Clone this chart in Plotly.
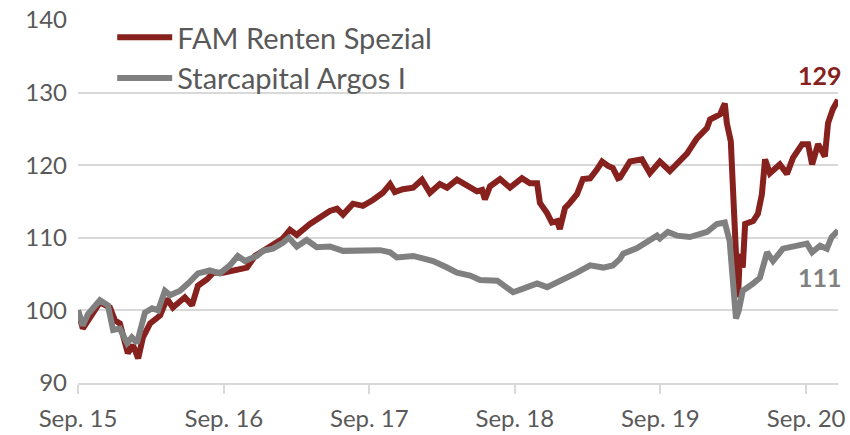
import plotly.graph_objects as go

# FAM Renten Spezial (red)
fam_dates = [
    "2015-09-01", "2015-09-13", "2015-10-01", "2015-10-26", "2015-11-20", "2015-12-03",
    "2015-12-15", "2015-12-28", "2016-01-04", "2016-01-17", "2016-01-30", "2016-02-11",
    "2016-02-29", "2016-03-25", "2016-04-11", "2016-04-26", "2016-05-14", "2016-05-26",
    "2016-06-13", "2016-06-28", "2016-07-21", "2016-08-05", "2016-08-30", "2016-10-04",
    "2016-10-29", "2016-11-18", "2016-12-08", "2017-01-02", "2017-01-27", "2017-02-14",
    "2017-03-03", "2017-04-05", "2017-04-30", "2017-05-25", "2017-06-12", "2017-06-27",
    "2017-07-22", "2017-08-16", "2017-09-10", "2017-10-05", "2017-10-23", "2017-11-04",
    "2017-11-24", "2017-12-20", "2018-01-11", "2018-01-31", "2018-02-25", "2018-03-15",
    "2018-04-09", "2018-05-04", "2018-05-29", "2018-06-11", "2018-06-18", "2018-07-01",
    "2018-07-26", "2018-08-20", "2018-09-19", "2018-10-09", "2018-10-27", "2018-11-03",
    "2018-11-21", "2018-12-03", "2018-12-16", "2018-12-23", "2019-01-05", "2019-01-17",
    "2019-02-04", "2019-02-19", "2019-03-09", "2019-03-26", "2019-04-08", "2019-04-23",
    "2019-05-05", "2019-05-18", "2019-05-23", "2019-06-17", "2019-07-17", "2019-08-06",
    "2019-08-31", "2019-09-25", "2019-10-13", "2019-11-07", "2019-12-02", "2019-12-27",
    "2020-01-04", "2020-01-29", "2020-02-10", "2020-02-15", "2020-02-25", "2020-03-01",
    "2020-03-09", "2020-03-14", "2020-03-19", "2020-03-26", "2020-04-01", "2020-04-21",
    "2020-05-03", "2020-05-13", "2020-05-21", "2020-06-02", "2020-06-27", "2020-07-15",
    "2020-07-30", "2020-08-22", "2020-09-06", "2020-09-16", "2020-10-01", "2020-10-18",
    "2020-10-26", "2020-11-07", "2020-11-20",
]
fam_values = [
    100.0, 97.5, 99.0, 101.1, 100.4, 98.6,
    98.2, 95.6, 94.1, 95.2, 93.4, 96.3,
    98.2, 99.3, 101.6, 100.4, 101.4, 101.8,
    100.7, 103.4, 104.3, 105.2, 105.2, 105.7,
    105.9, 107.5, 108.2, 109.2, 109.9, 111.1,
    110.4, 111.9, 112.9, 113.7, 114.0, 113.2,
    114.7, 114.4, 115.2, 116.2, 117.4, 116.3,
    116.7, 116.9, 118.0, 116.2, 117.4, 116.9,
    118.0, 117.1, 116.4, 116.6, 115.3, 117.1,
    118.1, 116.9, 118.2, 117.5, 117.5, 114.8,
    113.4, 112.1, 112.3, 111.2, 114.1, 114.8,
    116.0, 118.1, 118.2, 119.4, 120.5, 119.9,
    119.6, 118.2, 118.3, 120.5, 120.8, 118.9,
    120.5, 119.2, 120.3, 121.6, 123.7, 125.1,
    126.3, 127.0, 128.5, 125.8, 123.3, 117.8,
    108.6, 101.8, 107.8, 105.9, 111.9, 112.3,
    113.3, 116.0, 120.8, 118.9, 120.1, 118.8,
    121.0, 122.9, 122.9, 120.1, 122.9, 121.2,
    125.8, 127.7, 129.0,
]

# Starcapital Argos I (grey)
argos_dates = [
    "2015-09-01", "2015-09-13", "2015-09-26", "2015-10-26", "2015-11-15", "2015-11-28",
    "2015-12-15", "2016-01-02", "2016-01-14", "2016-01-27", "2016-02-16", "2016-03-05",
    "2016-03-20", "2016-04-06", "2016-04-19", "2016-05-14", "2016-06-03", "2016-06-28",
    "2016-07-28", "2016-08-22", "2016-09-16", "2016-10-06", "2016-10-24", "2016-11-23",
    "2016-12-08", "2017-01-02", "2017-01-27", "2017-02-11", "2017-03-03", "2017-03-28",
    "2017-04-22", "2017-05-25", "2017-06-27", "2017-08-16", "2017-09-28", "2017-10-23",
    "2017-11-09", "2017-12-20", "2018-01-06", "2018-02-08", "2018-03-15", "2018-04-09",
    "2018-05-12", "2018-06-06", "2018-07-19", "2018-08-13", "2018-08-28", "2018-09-22",
    "2018-10-27", "2018-11-21", "2018-12-16", "2019-01-10", "2019-02-04", "2019-03-09",
    "2019-04-11", "2019-05-05", "2019-05-23", "2019-05-31", "2019-07-05", "2019-08-24",
    "2019-08-31", "2019-09-20", "2019-10-13", "2019-11-14", "2019-12-27", "2020-01-21",
    "2020-02-10", "2020-02-22", "2020-03-01", "2020-03-09", "2020-03-16", "2020-03-26",
    "2020-04-21", "2020-05-08", "2020-05-26", "2020-06-10", "2020-07-05", "2020-08-09",
    "2020-09-03", "2020-09-16", "2020-10-06", "2020-10-23", "2020-11-04", "2020-11-20",
]
argos_values = [
    100.0, 97.9, 99.5, 101.4, 100.7, 97.3,
    97.5, 95.5, 96.3, 95.5, 99.7, 100.3,
    100.0, 102.7, 102.1, 102.7, 103.7, 105.1,
    105.5, 105.1, 106.2, 107.5, 106.8, 107.5,
    108.2, 108.5, 109.3, 110.0, 108.8, 109.7,
    108.7, 108.8, 108.2, 108.2, 108.3, 108.0,
    107.3, 107.5, 107.3, 106.8, 105.9, 105.2,
    104.8, 104.2, 104.1, 103.2, 102.5, 103.0,
    103.7, 103.2, 103.8, 104.5, 105.2, 106.2,
    105.9, 106.2, 107.1, 107.8, 108.6, 110.3,
    109.9, 110.8, 110.3, 110.1, 110.8, 111.9,
    112.1, 109.6, 105.1, 98.9, 100.0, 102.7,
    103.7, 104.5, 108.0, 106.8, 108.5, 108.9,
    109.2, 108.0, 108.9, 108.5, 110.1, 111.0,
]

tick_dates = ["2015-09-01", "2016-09-01", "2017-09-01", "2018-09-01", "2019-09-01", "2020-09-01"]
tick_labels = ["Sep. 15", "Sep. 16", "Sep. 17", "Sep. 18", "Sep. 19", "Sep. 20"]

RED = "#86211E"
GREY = "#808080"
TEXT = "#595959"
GRID = "#D9D9D9"
FONT = "Lato"

fig = go.Figure()
fig.add_trace(go.Scatter(x=fam_dates, y=fam_values, mode="lines", name="FAM Renten Spezial",
                         line=dict(color=RED, width=6)))
fig.add_trace(go.Scatter(x=argos_dates, y=argos_values, mode="lines", name="Starcapital Argos I",
                         line=dict(color=GREY, width=6)))

# end labels
fig.add_annotation(x=fam_dates[-1], y=fam_values[-1], text="<b>%d</b>" % round(fam_values[-1]),
                   showarrow=False, xanchor="right", yanchor="middle", xshift=6, yshift=25,
                   font=dict(family=FONT, size=25, color=RED))
fig.add_annotation(x=argos_dates[-1], y=argos_values[-1], text="<b>%d</b>" % round(argos_values[-1]),
                   showarrow=False, xanchor="right", yanchor="middle", xshift=6, yshift=-46,
                   font=dict(family=FONT, size=25, color=GREY))

fig.update_layout(
    width=850, height=435,
    margin=dict(l=78, r=12, t=18, b=52),
    paper_bgcolor="white", plot_bgcolor="white",
    font=dict(family=FONT, size=24, color=TEXT),
    legend=dict(x=0.045, y=1.022, xanchor="left", yanchor="top", bgcolor="rgba(0,0,0,0)",
                font=dict(size=29, color=TEXT), itemwidth=55, tracegroupgap=0),
    showlegend=True,
)
fig.update_xaxes(
    range=["2015-09-01", "2020-11-20"], automargin=False,
    tickvals=tick_dates, ticktext=tick_labels,
    showgrid=False, showline=True, linecolor=GRID, linewidth=2,
    ticks="outside", ticklen=9, tickwidth=2, tickcolor=GRID,
    ticklabelstandoff=4,
)
fig.update_yaxes(
    range=[90, 140], dtick=10, automargin=False,
    showgrid=True, gridcolor=GRID, gridwidth=2,
    zeroline=False, ticks="", ticklabelstandoff=10,
)

# drop the default body margin so the figure sits at the page corner
fig.write_html("out.html", config={"displayModeBar": False},
               post_script="document.body.style.margin = '0px';")
